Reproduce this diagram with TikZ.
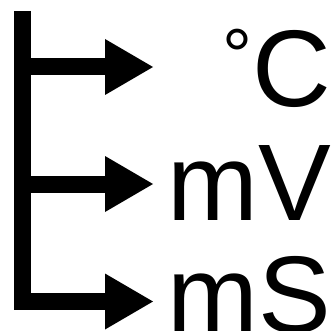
\documentclass[tikz,border=0pt]{standalone}
\usepackage{fontspec}
\setmainfont{Liberation Sans}
\usetikzlibrary{arrows.meta}
\begin{document}
\begin{tikzpicture}[x=1pt,y=-1pt,
  shaft/.style={line width=17pt,line cap=butt,line join=miter,
    -{Triangle[length=48pt,width=56pt,line width=0pt]}},
  unit/.style={anchor=base east,inner sep=0pt,font=\fontsize{109}{109}\selectfont}]
\useasboundingbox (0,0) rectangle (331,331);
\coordinate (top) at (22.5,11);
\coordinate (j1) at (22.5,67);
\coordinate (j2) at (22.5,184);
\coordinate (corner) at (22.5,301.5);
\node[unit] (degc) at (331.5,107) {\raisebox{25pt}{\fontsize{75}{75}\selectfont °}C};
\node[unit] (mv) at (331.5,220) {mV};
\node[unit] (ms) at (331.5,332) {mS};
\coordinate (t1) at (153,67);
\coordinate (t2) at (153,184);
\coordinate (t3) at (153,301.5);
\draw[shaft] (top) -- (corner) -- (t3);
\draw[shaft] (j1) -- (t1);
\draw[shaft] (j2) -- (t2);
\end{tikzpicture}
\end{document}
